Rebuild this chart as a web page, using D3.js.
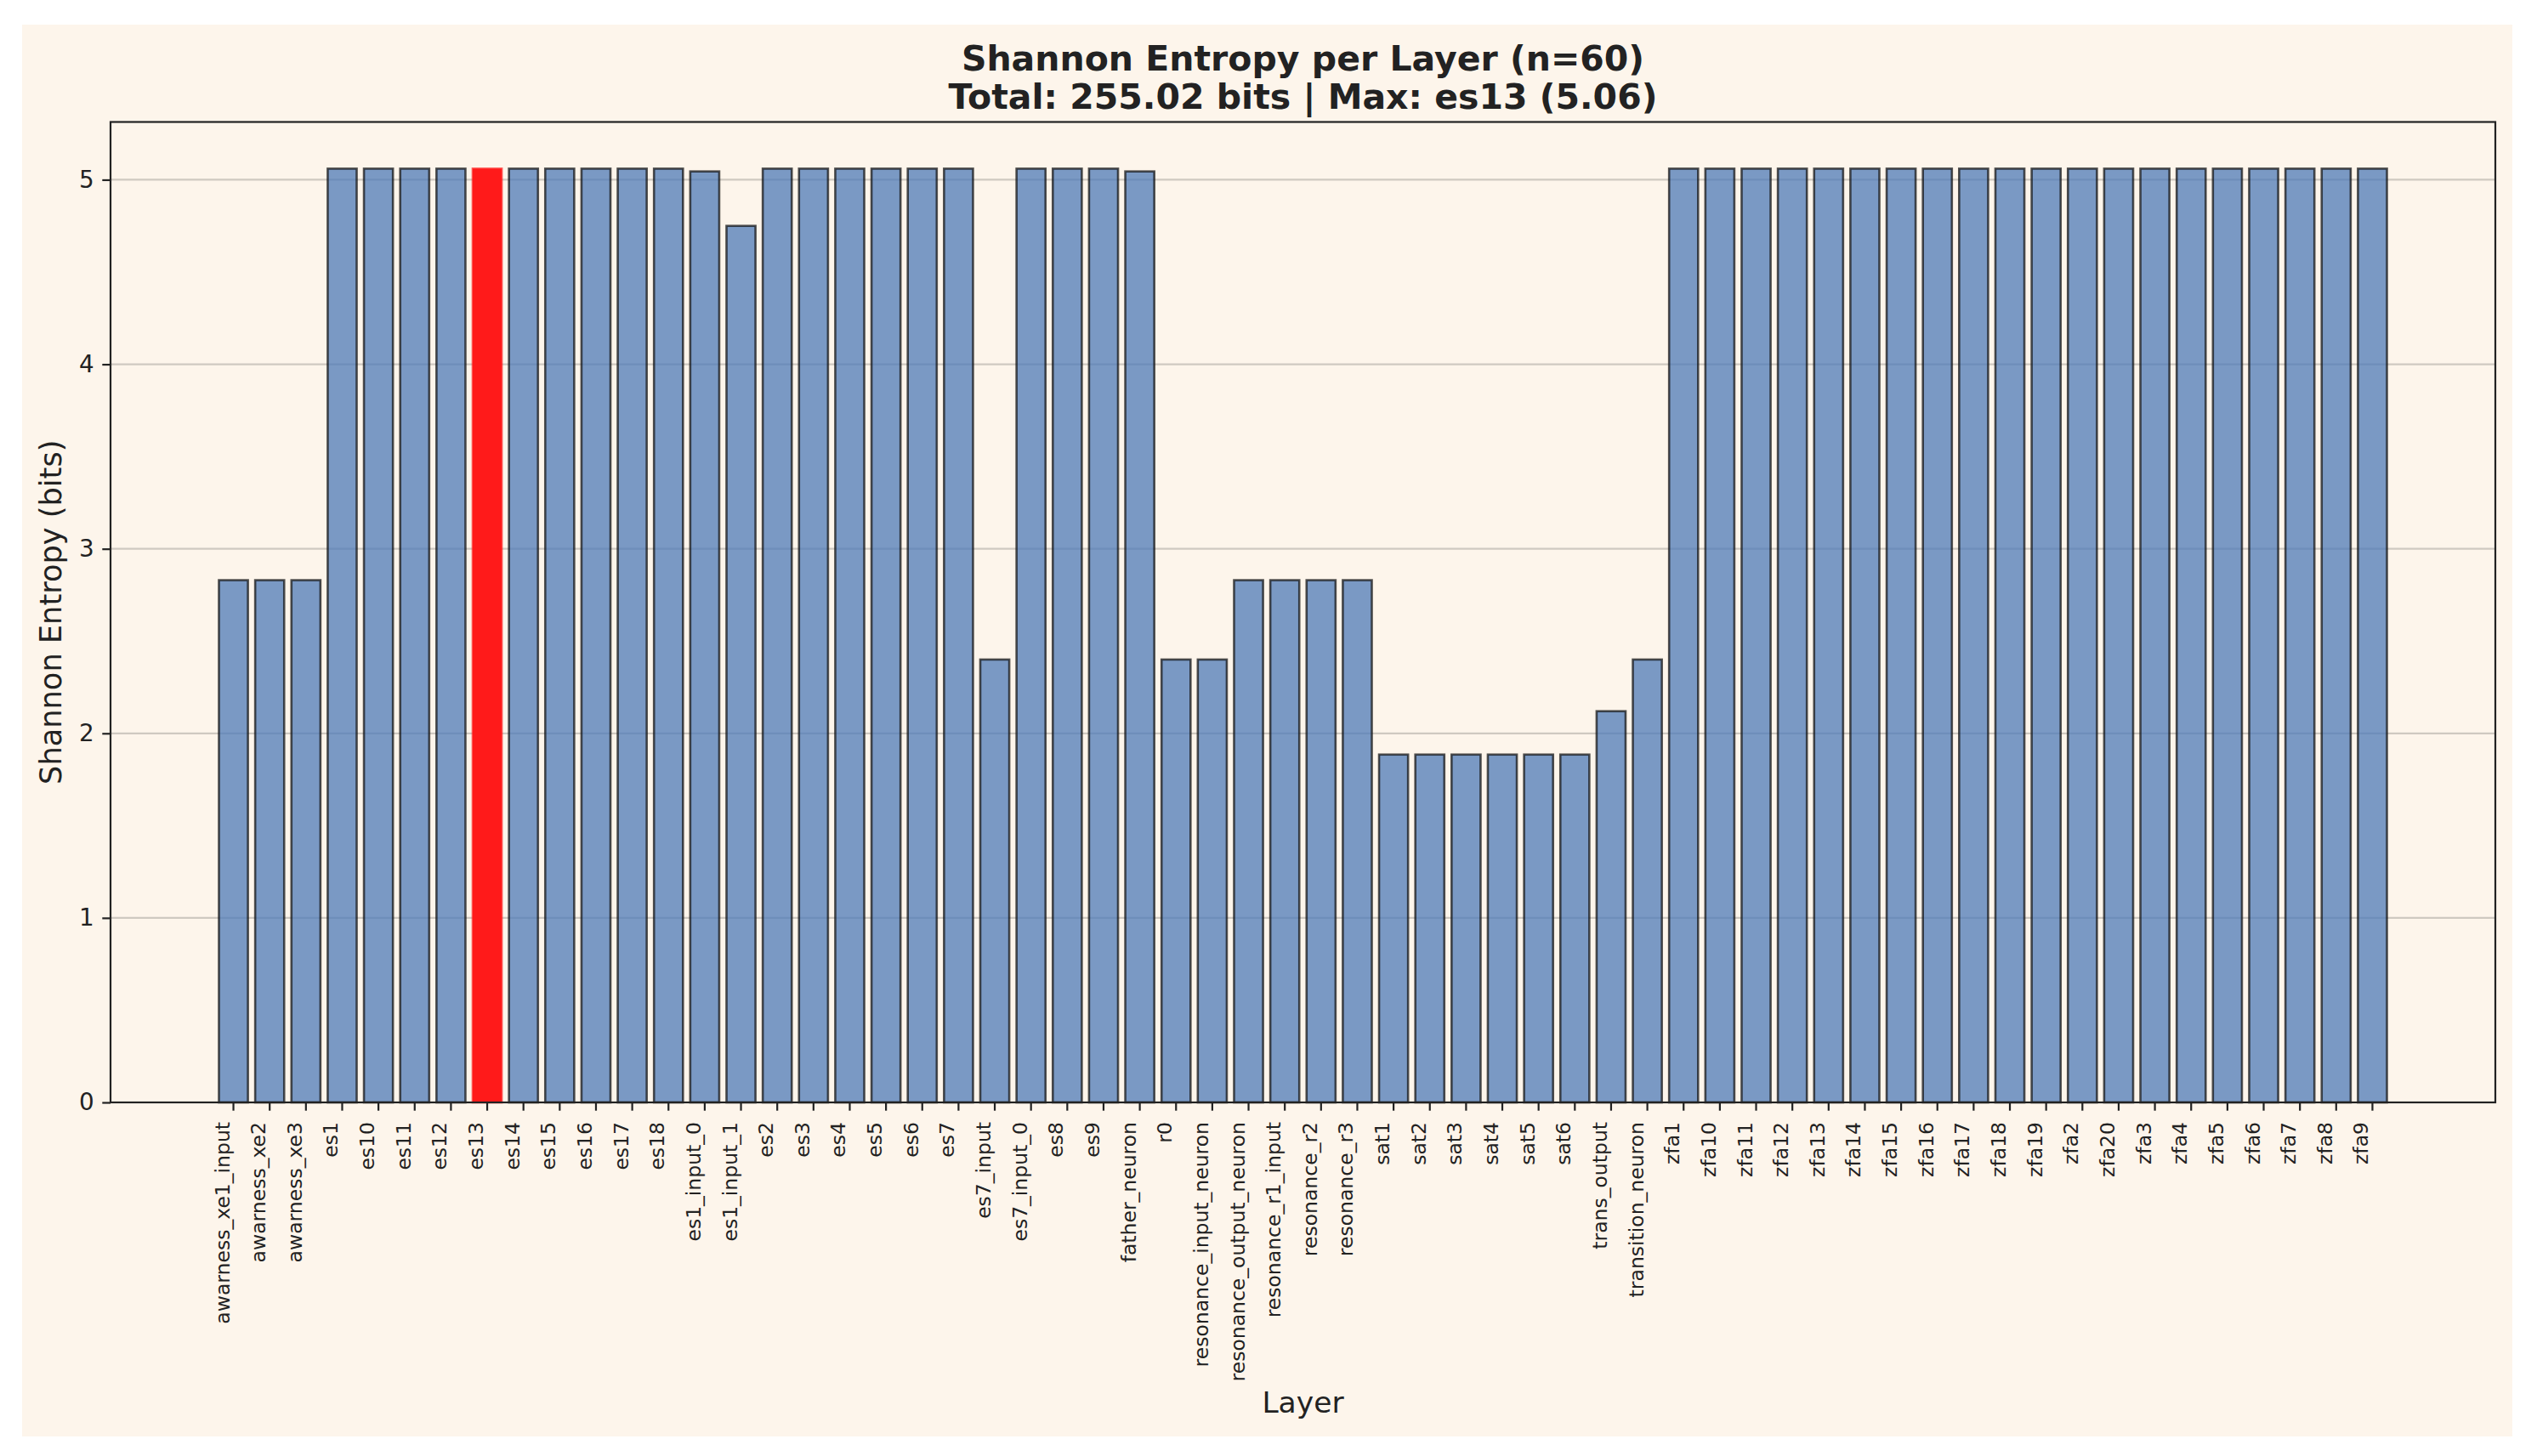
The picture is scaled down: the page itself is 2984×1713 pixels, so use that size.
<!DOCTYPE html>
<html>
<head>
<meta charset="utf-8">
<script src="https://cdn.jsdelivr.net/npm/d3@7"></script>
<style>
  body { margin: 0; background: #ffffff; }
  svg { display: block; font-family: "DejaVu Sans", sans-serif; }
</style>
</head>
<body>
<script>
// layer names, in the order they were plotted
var layers = [
  "awarness_xe1_input", "awarness_xe2", "awarness_xe3",
  "es1", "es10", "es11", "es12", "es13", "es14", "es15", "es16", "es17", "es18",
  "es1_input_0", "es1_input_1",
  "es2", "es3", "es4", "es5", "es6", "es7", "es7_input", "es7_input_0", "es8", "es9",
  "father_neuron", "r0",
  "resonance_input_neuron", "resonance_output_neuron", "resonance_r1_input",
  "resonance_r2", "resonance_r3",
  "sat1", "sat2", "sat3", "sat4", "sat5", "sat6",
  "trans_output", "transition_neuron",
  "zfa1", "zfa10", "zfa11", "zfa12", "zfa13", "zfa14", "zfa15", "zfa16", "zfa17",
  "zfa18", "zfa19", "zfa2", "zfa20", "zfa3", "zfa4", "zfa5", "zfa6", "zfa7", "zfa8", "zfa9"
];

// entropy in bits
var entropy = [
  2.83, 2.83, 2.83,
  5.06, 5.06, 5.06, 5.06, 5.06, 5.06, 5.06, 5.06, 5.06, 5.06,
  5.045, 4.75,
  5.06, 5.06, 5.06, 5.06, 5.06, 5.06, 2.40, 5.06, 5.06, 5.06,
  5.045, 2.40,
  2.40, 2.83, 2.83,
  2.83, 2.83,
  1.885, 1.885, 1.885, 1.885, 1.885, 1.885,
  2.12, 2.40,
  5.06, 5.06, 5.06, 5.06, 5.06, 5.06, 5.06, 5.06, 5.06,
  5.06, 5.06, 5.06, 5.06, 5.06, 5.06, 5.06, 5.06, 5.06, 5.06, 5.06
];

var yTicks = [0, 1, 2, 3, 4, 5];
var maxLayer = "es13";
var titleLines = [
  "Shannon Entropy per Layer (n=60)",
  "Total: 255.02 bits | Max: es13 (5.06)"
];

var width = 2984, height = 1713;
var plot = {left: 130, right: 2935, top: 143.5, bottom: 1297};
var cream = "#fdf5eb";
var ink = "#222222";

var svg = d3.select("body").append("svg")
    .attr("width", width)
    .attr("height", height);

svg.append("rect")
    .attr("x", 26).attr("y", 29)
    .attr("width", 2955 - 26).attr("height", 1690 - 29)
    .attr("fill", cream);

var x = d3.scaleBand()
    .domain(layers)
    .range([plot.left, plot.right])
    .paddingInner(0.2)
    .paddingOuter(2.99);

var y = d3.scaleLinear()
    .domain([0, d3.max(entropy) * 1.05])
    .range([plot.bottom, plot.top]);

// horizontal grid
svg.append("g")
    .selectAll("line")
    .data(yTicks)
    .enter()
    .append("line")
    .attr("x1", plot.left).attr("x2", plot.right)
    .attr("y1", function(d) { return y(d); })
    .attr("y2", function(d) { return y(d); })
    .attr("stroke", "#cfc9c1")
    .attr("stroke-width", 2.2);

// bars
svg.append("g")
    .selectAll("rect")
    .data(layers)
    .enter()
    .append("rect")
    .attr("x", function(d) { return x(d); })
    .attr("width", x.bandwidth())
    .attr("y", function(d, i) { return y(entropy[i]); })
    .attr("height", function(d, i) { return y(0) - y(entropy[i]); })
    .attr("fill", function(d) { return d == maxLayer ? "#ff1a1a" : "#4d7ab7"; })
    .attr("fill-opacity", function(d) { return d == maxLayer ? 1 : 0.75; })
    .attr("stroke", function(d) { return d == maxLayer ? "#ff1a1a" : "#111111"; })
    .attr("stroke-opacity", 0.72)
    .attr("stroke-width", 2.6);

// y axis
var yAxis = svg.append("g")
    .attr("transform", "translate(" + plot.left + ",0)")
    .call(d3.axisLeft(y).tickValues(yTicks).tickFormat(d3.format("d"))
        .tickSize(9.7).tickPadding(9.7));
yAxis.select(".domain").remove();
yAxis.selectAll("line").attr("stroke", ink).attr("stroke-width", 2.2);
yAxis.selectAll("text")
    .attr("fill", ink)
    .style("font-size", "27.8px")
    .style("font-family", "DejaVu Sans");

// x axis, labels turned upright and right-aligned to the tick
var xAxis = svg.append("g")
    .attr("transform", "translate(0," + plot.bottom + ")")
    .call(d3.axisBottom(x).tickSize(9.7));
xAxis.select(".domain").remove();
xAxis.selectAll("line").attr("stroke", ink).attr("stroke-width", 2.2);
xAxis.selectAll("text")
    .attr("transform", "rotate(-90)")
    .attr("x", -23)
    .attr("y", -5)
    .attr("dy", "0")
    .attr("fill", ink)
    .style("text-anchor", "end")
    .style("font-size", "23.5px")
    .style("font-family", "DejaVu Sans");

// frame
svg.append("rect")
    .attr("x", plot.left).attr("y", plot.top)
    .attr("width", plot.right - plot.left)
    .attr("height", plot.bottom - plot.top)
    .attr("fill", "none")
    .attr("stroke", ink)
    .attr("stroke-width", 2.2);

// titles and axis labels
svg.append("g")
    .selectAll("text")
    .data(titleLines)
    .enter()
    .append("text")
    .attr("x", (plot.left + plot.right) / 2)
    .attr("y", function(d, i) { return 83 + i * 45; })
    .attr("text-anchor", "middle")
    .attr("fill", ink)
    .style("font-size", "41px")
    .style("font-weight", "bold")
    .text(function(d) { return d; });

svg.append("text")
    .attr("transform", "translate(72," + (plot.top + plot.bottom) / 2 + ") rotate(-90)")
    .attr("text-anchor", "middle")
    .attr("fill", ink)
    .style("font-size", "35.2px")
    .text("Shannon Entropy (bits)");

svg.append("text")
    .attr("x", (plot.left + plot.right) / 2)
    .attr("y", 1662)
    .attr("text-anchor", "middle")
    .attr("fill", ink)
    .style("font-size", "34.5px")
    .text("Layer");
</script>
</body>
</html>
